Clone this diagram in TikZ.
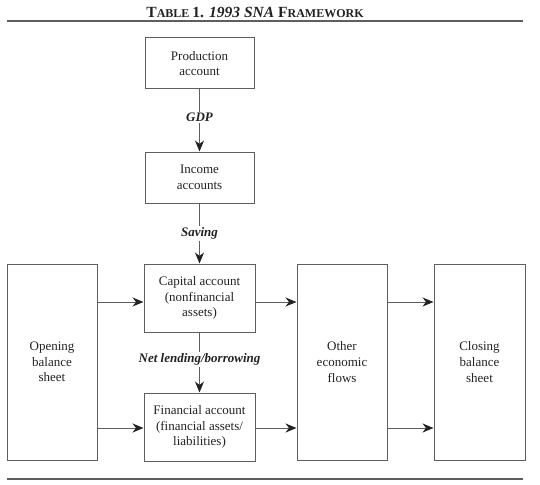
\documentclass[tikz,border=0pt]{standalone}
\usepackage{fontspec}
\setmainfont{Liberation Serif}
\usetikzlibrary{arrows.meta}
\definecolor{ln}{HTML}{5E5E5E}
\definecolor{tx}{HTML}{222222}
\begin{document}
\begin{tikzpicture}[x=1pt,y=-1pt,
  box/.style={draw=ln, line width=1pt, align=center, text=tx, inner sep=0pt,
    font=\fontsize{13}{15.6}\selectfont},
  lab/.style={fill=white, inner sep=1.5pt, text=tx, font=\fontsize{13}{15.6}\selectfont\bfseries\itshape},
  arr/.style={draw=ln, line width=1pt, -{Stealth[length=11pt,width=9pt,inset=3.5pt,fill=tx,color=tx]}},
  rule/.style={draw=ln, line width=1.1pt}]
\useasboundingbox (0,0) rectangle (540,484);
\node[text=tx, font=\bfseries] (title) at (255,12) {\fontsize{15.5}{18}\selectfont T\fontsize{12}{14}\selectfont ABLE \fontsize{15.5}{18}\selectfont 1. \itshape 1993 SNA \upshape F\fontsize{12}{14}\selectfont RAMEWORK};
\coordinate (t1) at (7,21); \coordinate (t2) at (523,21);
\coordinate (b1) at (7,479); \coordinate (b2) at (523,479);
\draw[rule] (t1) -- (t2);
\draw[rule] (b1) -- (b2);
\node[box, minimum width=109pt, minimum height=51pt] (prod) at (199.5,63.5) {Production\\account};
\node[box, minimum width=109pt, minimum height=51pt] (inc) at (199.5,177.5) {Income\\accounts};
\node[box, minimum width=111pt, minimum height=68pt] (cap) at (199.5,298) {Capital account\\(nonfinancial\\assets)};
\node[box, minimum width=111pt, minimum height=68pt] (fin) at (199.5,427) {Financial account\\(financial assets/\\liabilities)};
\node[box, minimum width=90pt, minimum height=196pt] (open) at (52,362) {Opening\\balance\\sheet};
\node[box, minimum width=90pt, minimum height=196pt] (oth) at (342,362) {Other\\economic\\flows};
\node[box, minimum width=91pt, minimum height=196pt] (clo) at (479.5,362) {Closing\\balance\\sheet};
\draw[arr] (prod) -- node[lab, pos=0.45] {GDP} (inc);
\draw[arr] (inc) -- node[lab, pos=0.5] {Saving} (cap);
\draw[arr] (cap) -- node[lab, pos=0.45] {Net lending/borrowing} (fin);
\draw[arr] ([yshift=-4pt]open.east |- cap.center) -- ([yshift=-4pt]cap.west);
\draw[arr] ([yshift=-4pt]cap.east) -- ([yshift=-4pt]oth.west |- cap.center);
\draw[arr] ([yshift=-4pt]oth.east |- cap.center) -- ([yshift=-4pt]clo.west |- cap.center);
\draw[arr] ([yshift=-1pt]open.east |- fin.center) -- ([yshift=-1pt]fin.west);
\draw[arr] ([yshift=-1pt]fin.east) -- ([yshift=-1pt]oth.west |- fin.center);
\draw[arr] ([yshift=-1pt]oth.east |- fin.center) -- ([yshift=-1pt]clo.west |- fin.center);
\end{tikzpicture}
\end{document}
